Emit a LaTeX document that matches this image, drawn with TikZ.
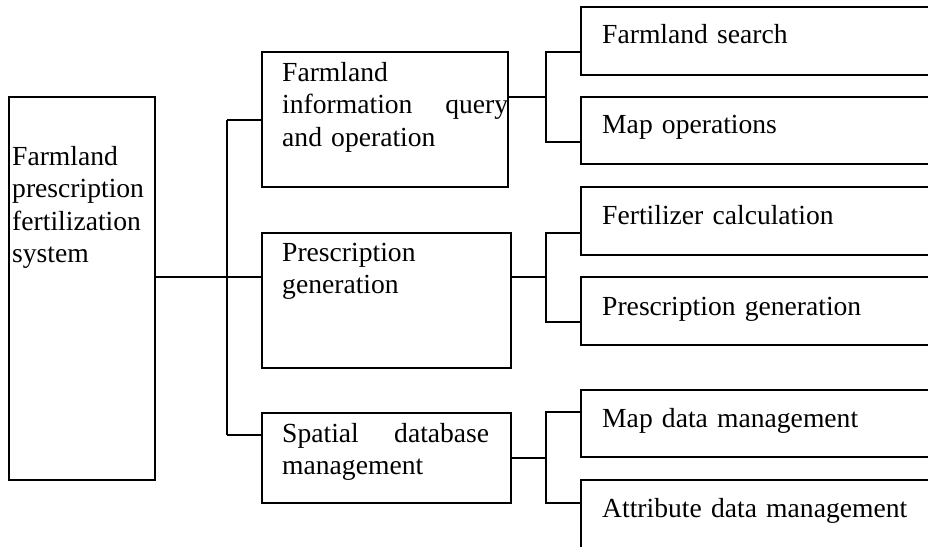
\documentclass[tikz,border=0pt]{standalone}
\usepackage{fontspec}
\setmainfont{Liberation Serif}
\begin{document}
\begin{tikzpicture}[x=1pt,y=-1pt,
  box/.style={draw, line width=1.8pt, rectangle, inner sep=0pt},
  conn/.style={line width=1.8pt},
  lbl/.style={inner sep=0pt, anchor=base west, font=\fontsize{27.6}{32.5}\selectfont, align=left}]
\useasboundingbox (0,0) rectangle (928,546);
\clip (0,0) rectangle (928,546);
% boxes
\node[box, minimum width=146pt, minimum height=383pt] (root) at (82,288.5) {};
\node[box, minimum width=246pt, minimum height=135pt] (m1) at (385,119.5) {};
\node[box, minimum width=249pt, minimum height=135pt] (m2) at (386.5,300.5) {};
\node[box, minimum width=249pt, minimum height=90pt] (m3) at (386.5,458) {};
\node[box, minimum width=364pt, minimum height=68pt] (r1) at (763,41) {};
\node[box, minimum width=364pt, minimum height=67pt] (r2) at (763,130.5) {};
\node[box, minimum width=364pt, minimum height=68pt] (r3) at (763,221) {};
\node[box, minimum width=364pt, minimum height=68pt] (r4) at (763,311) {};
\node[box, minimum width=364pt, minimum height=67pt] (r5) at (763,423.5) {};
\node[box, minimum width=364pt, minimum height=68pt] (r6) at (763,514) {};
% texts
\node[lbl, text width=140pt] (troot) at (12,165) {Farmland\\prescription\\fertilization\\system};
\node[lbl, text width=226pt] (tm1) at (282,81) {Farmland\\information\hfill query\\and operation};
\node[lbl, text width=226pt] (tm2) at (282,261) {Prescription\\generation};
\node[lbl, text width=207pt] (tm3) at (282,442) {Spatial\hfill database\\management};
\node[lbl, text width=320pt] (tr1) at (602,43) {Farmland search};
\node[lbl, text width=320pt] (tr2) at (602,133) {Map operations};
\node[lbl, text width=320pt] (tr3) at (602,224) {Fertilizer calculation};
\node[lbl, text width=320pt] (tr4) at (602,315) {Prescription generation};
\node[lbl, text width=320pt] (tr5) at (602,427) {Map data management};
\node[lbl, text width=320pt] (tr6) at (602,517) {Attribute data management};
% junction coordinates
\coordinate (j) at (227,277);
\coordinate (jt) at (227,120);
\coordinate (jb) at (227,435);
\coordinate (b1) at (546,97);
\coordinate (b2) at (546,277);
\coordinate (b3) at (546,458);
% main connectors
\draw[conn] (root.east |- j) -- (j);
\draw[conn] (jt) -- (jb);
\draw[conn] (jt) -- (m1.west |- jt);
\draw[conn] (j) -- (m2.west |- j);
\draw[conn] (jb) -- (m3.west |- jb);
% right brackets
\draw[conn] (m1.east |- b1) -- (b1);
\draw[conn] (r1.west |- 0,52) -| (b1 |- 0,142) -- (r2.west |- 0,142);
\draw[conn] (m2.east |- b2) -- (b2);
\draw[conn] (r3.west |- 0,233) -| (b2 |- 0,322) -- (r4.west |- 0,322);
\draw[conn] (m3.east |- b3) -- (b3);
\draw[conn] (r5.west |- 0,412) -| (b3 |- 0,503) -- (r6.west |- 0,503);
\end{tikzpicture}
\end{document}
